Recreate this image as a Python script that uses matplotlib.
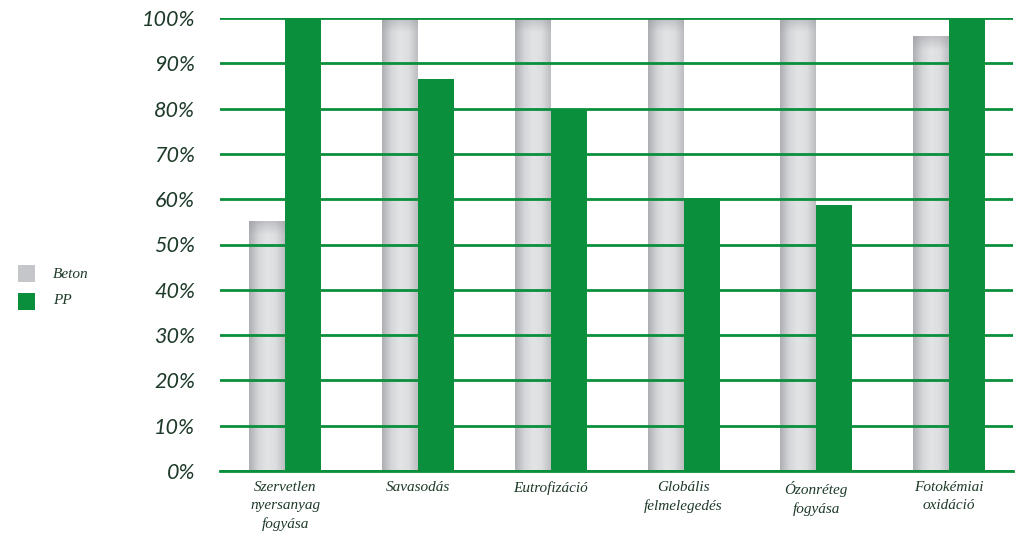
import numpy as np
import matplotlib.pyplot as plt
from matplotlib.colors import LinearSegmentedColormap
from matplotlib.patches import Rectangle
from matplotlib.ticker import FuncFormatter

categories = ["Szervetlen\nnyersanyag\nfogyása", "Savasodás", "Eutrofizáció",
              "Globális\nfelmelegedés", "Ózonréteg\nfogyása", "Fotokémiai\noxidáció"]
beton = [55, 100, 100, 100, 100, 96]
pp = [100, 86.5, 80, 60.3, 58.8, 100]
series_names = ["Beton", "PP"]

GREEN = "#0a8f3c"
TEXT = "#1d3a28"

fig = plt.figure(figsize=(10.29, 5.37), dpi=100)
ax = fig.add_axes([220 / 1029, 1 - 471 / 537, (1013 - 220) / 1029, (471 - 18) / 537])

x = np.arange(len(categories))
w = 0.271

# gray bars with a horizontal shading (darker edges, light middle)
gray_cmap = LinearSegmentedColormap.from_list(
    "g", ["#adafb2", "#d3d5d8", "#e2e4e6", "#dcdee0", "#bcbec1"])
grad = np.linspace(0, 1, 64).reshape(1, -1)
shade = LinearSegmentedColormap.from_list(
    "t", [(0.6, 0.6, 0.62, 0.0), (0.6, 0.6, 0.62, 0.45)])
for xi, v in zip(x, beton):
    ax.imshow(grad, extent=[xi - w, xi, 0, v], cmap=gray_cmap, aspect="auto",
              zorder=1, interpolation="bicubic")
    # slight shadow near the top
    top = np.linspace(0, 1, 32).reshape(-1, 1)
    ax.imshow(top, extent=[xi - w, xi, v - 3, v], cmap=shade, aspect="auto",
              zorder=1.1, origin="lower")

ax.bar(x + w / 2, pp, width=w, color=GREEN, zorder=3)

ax.set_xlim(-0.49, 5.48)
ax.set_ylim(0, 100)
ax.set_yticks(np.arange(0, 101, 10))
ax.yaxis.set_major_formatter(FuncFormatter(lambda v, p: f"{int(v)}%"))
ax.grid(axis="y", color=GREEN, linewidth=2, zorder=2)
ax.set_axisbelow(False)
for s in ["top", "right", "left"]:
    ax.spines[s].set_visible(False)
ax.spines["bottom"].set_color(GREEN)
ax.spines["bottom"].set_linewidth(2)
ax.spines["bottom"].set_zorder(4)
ax.tick_params(axis="y", length=0, pad=18, labelsize=15.5, labelcolor=TEXT)
for lab in ax.get_yticklabels():
    lab.set_fontstyle("italic")
    lab.set_family("Lato")
ax.set_xticks(x)
ax.set_xticklabels(categories, fontsize=11, color=TEXT, family="Liberation Serif",
                   style="italic", linespacing=1.5)
ax.tick_params(axis="x", length=0, pad=7)

# legend
fig.patches.append(Rectangle((18 / 1029, 1 - 282 / 537), 17 / 1029, 17 / 537,
                             transform=fig.transFigure, facecolor="#c4c6c9", edgecolor="none"))
fig.patches.append(Rectangle((18 / 1029, 1 - 310 / 537), 17 / 1029, 17 / 537,
                             transform=fig.transFigure, facecolor=GREEN, edgecolor="none"))
fig.text(53 / 1029, 1 - 274 / 537, series_names[0], fontsize=11, color=TEXT,
         family="Liberation Serif", style="italic", va="center")
fig.text(53 / 1029, 1 - 301 / 537, series_names[1], fontsize=11, color=TEXT,
         family="Liberation Serif", style="italic", va="center")

fig.savefig("out.png", dpi=100)
